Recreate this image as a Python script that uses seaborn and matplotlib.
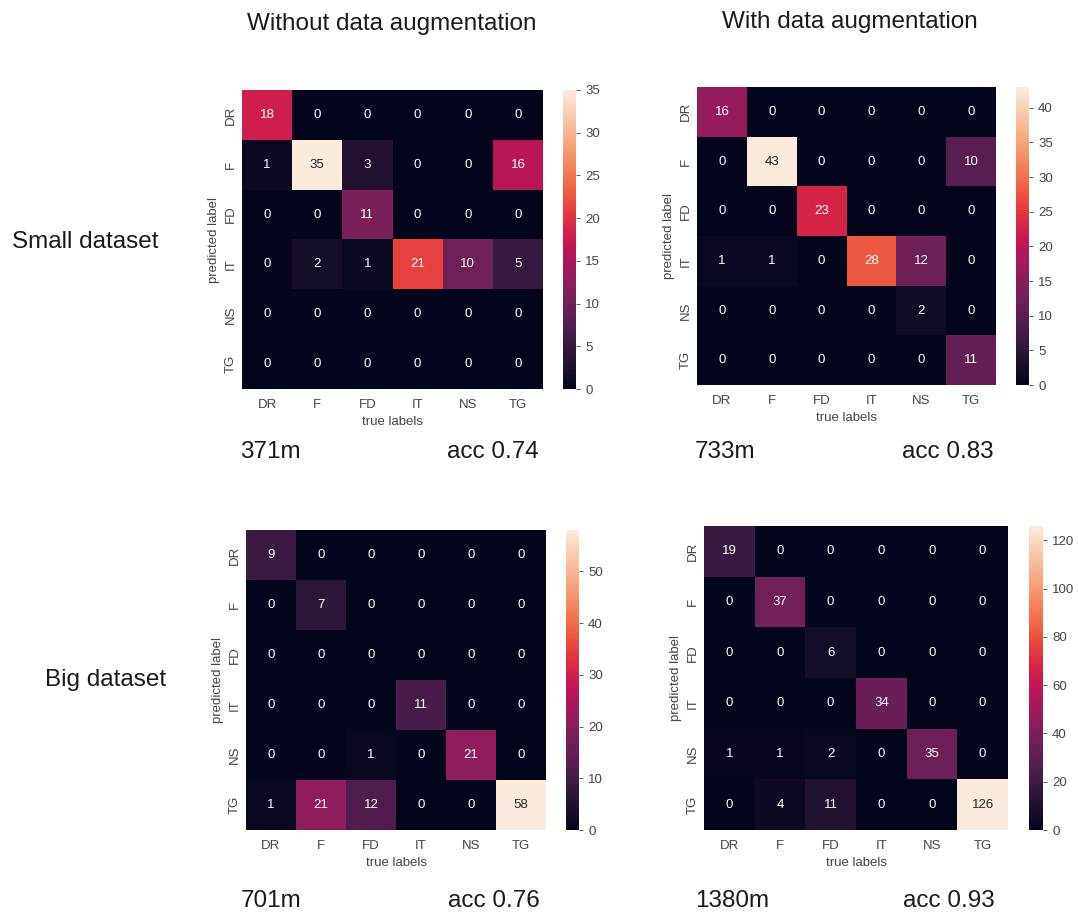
import numpy as np
import pandas as pd
import matplotlib
matplotlib.use("Agg")
import matplotlib.pyplot as plt
import seaborn as sns

labels = ["DR", "F", "FD", "IT", "NS", "TG"]

small_no_aug = [
    [18, 0, 0, 0, 0, 0],
    [1, 35, 3, 0, 0, 16],
    [0, 0, 11, 0, 0, 0],
    [0, 2, 1, 21, 10, 5],
    [0, 0, 0, 0, 0, 0],
    [0, 0, 0, 0, 0, 0],
]
small_aug = [
    [16, 0, 0, 0, 0, 0],
    [0, 43, 0, 0, 0, 10],
    [0, 0, 23, 0, 0, 0],
    [1, 1, 0, 28, 12, 0],
    [0, 0, 0, 0, 2, 0],
    [0, 0, 0, 0, 0, 11],
]
big_no_aug = [
    [9, 0, 0, 0, 0, 0],
    [0, 7, 0, 0, 0, 0],
    [0, 0, 0, 0, 0, 0],
    [0, 0, 0, 11, 0, 0],
    [0, 0, 1, 0, 21, 0],
    [1, 21, 12, 0, 0, 58],
]
big_aug = [
    [19, 0, 0, 0, 0, 0],
    [0, 37, 0, 0, 0, 0],
    [0, 0, 6, 0, 0, 0],
    [0, 0, 0, 34, 0, 0],
    [1, 1, 2, 0, 35, 0],
    [0, 4, 11, 0, 0, 126],
]

col_titles = ["Without data augmentation", "With data augmentation"]
row_titles = ["Small dataset", "Big dataset"]
times = ["371m", "733m", "701m", "1380m"]
accs = ["acc 0.74", "acc 0.83", "acc 0.76", "acc 0.93"]

sns.set_theme(style="white")
plt.rcParams["font.family"] = ["Liberation Sans", "DejaVu Sans"]

W, H = 1078, 913
fig = plt.figure(figsize=(W / 100, H / 100), dpi=100)

def fx(px):
    return px / W

def fy(py):
    return 1 - py / H

SMALL = 9.5
BIG = 17.5
TXT = "#1a1a1a"

# (left, top, right, bottom) in pixels for heatmap; colorbar left, right
panels = [
    (small_no_aug, (242, 90, 543, 389), (563, 576)),
    (small_aug, (697, 87, 996, 385), (1016, 1029)),
    (big_no_aug, (246, 530, 546, 830), (566, 579)),
    (big_aug, (704, 526, 1008, 830), (1029, 1043)),
]
# positions of the time / accuracy texts: (left x, right x, baseline y)
foot = [(240, 539, 458), (695, 994, 458), (241, 540, 907), (695, 995, 907)]

for i, (mat, (l, t, r, b), (cl, cr)) in enumerate(panels):
    ax = fig.add_axes([fx(l), fy(b), fx(r - l), (b - t) / H])
    cax = fig.add_axes([fx(cl), fy(b), fx(cr - cl), (b - t) / H])
    df = pd.DataFrame(mat, index=labels, columns=labels)
    sns.heatmap(df, annot=True, fmt="d", ax=ax, cbar_ax=cax,
                annot_kws={"size": SMALL})
    ax.set_xlabel("true labels", fontsize=SMALL, color="#444444", labelpad=4)
    ax.set_ylabel("predicted label", fontsize=SMALL, color="#444444")
    ax.tick_params(axis="both", labelsize=SMALL, colors="#444444", length=0)
    ax.tick_params(axis="x", pad=7)
    ax.set_yticklabels(labels, rotation=90, va="center")
    cax.tick_params(labelsize=SMALL, colors="#444444", length=3, width=0.6)
    for s in cax.spines.values():
        s.set_visible(False)
    xl, xr, yb = foot[i]
    fig.text(fx(xl), fy(yb), times[i], fontsize=BIG, ha="left",
             va="baseline", color=TXT)
    fig.text(fx(xr), fy(yb), accs[i], fontsize=BIG, ha="right",
             va="baseline", color=TXT)

fig.text(fx(392), fy(30), col_titles[0], fontsize=BIG, ha="center",
         va="baseline", color=TXT)
fig.text(fx(850), fy(28), col_titles[1], fontsize=BIG, ha="center",
         va="baseline", color=TXT)
fig.text(fx(12), fy(248), row_titles[0], fontsize=BIG, ha="left",
         va="baseline", color=TXT)
fig.text(fx(166), fy(686), row_titles[1], fontsize=BIG, ha="right",
         va="baseline", color=TXT)

fig.savefig("out.png", dpi=100, facecolor="white")
